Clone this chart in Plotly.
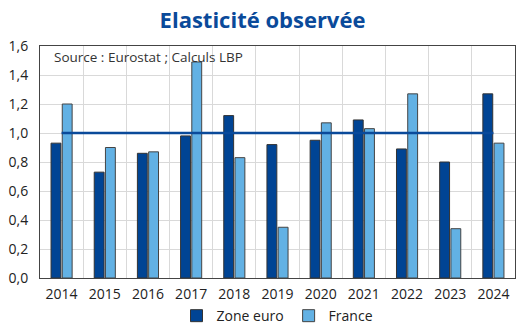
import plotly.graph_objects as go

years = ["2014", "2015", "2016", "2017", "2018", "2019", "2020", "2021", "2022", "2023", "2024"]
zone_euro = [0.93, 0.73, 0.86, 0.98, 1.12, 0.92, 0.95, 1.09, 0.89, 0.80, 1.27]
france = [1.20, 0.90, 0.87, 1.49, 0.83, 0.35, 1.07, 1.03, 1.27, 0.34, 0.93]
reference = [1.0] * len(years)

fig = go.Figure()
fig.add_trace(go.Bar(x=years, y=zone_euro, name="Zone euro",
                     marker=dict(color="#004494", line=dict(color="#333333", width=1))))
fig.add_trace(go.Bar(x=years, y=france, name="France",
                     marker=dict(color="#62B1E4", line=dict(color="#444444", width=1))))
fig.add_trace(go.Scatter(x=years, y=reference, mode="lines", showlegend=False,
                         line=dict(color="#0A4A9A", width=2.5), hoverinfo="skip"))

fig.update_layout(
    width=525, height=332,
    margin=dict(l=40, r=10, t=46, b=54),
    paper_bgcolor="white", plot_bgcolor="white",
    separators=", ",
    font=dict(family="Open Sans", size=14, color="#222222"),
    title=dict(text="<b>Elasticité observée</b>", x=0.5, xanchor="center", y=0.94, yanchor="middle",
               font=dict(family="Open Sans", size=22, color="#0A4A9A")),
    barmode="group", bargap=0.48, bargroupgap=0.12,
    legend=dict(orientation="h", x=0.5, xanchor="center", yref="container", y=0.048, yanchor="middle",
                font=dict(size=14), itemwidth=30, traceorder="normal"),
    xaxis=dict(type="category", tickson="boundaries", showgrid=True, gridcolor="#d9d9d9",
               showline=True, linecolor="#444444", linewidth=1, mirror=True, ticks="", ticklen=0,
               tickfont=dict(size=14), automargin=False, ticklabelstandoff=3),
    yaxis=dict(range=[0, 1.6], dtick=0.2, tickformat=".1f", showgrid=True, gridcolor="#d9d9d9",
               showline=True, linecolor="#444444", linewidth=1, mirror=True, zeroline=False,
               tickfont=dict(size=14), automargin=False, ticklabelstandoff=8),
    annotations=[dict(text="Source : Eurostat ; Calculs LBP", xref="paper", yref="paper",
                      x=0.026, y=1.0, xanchor="left", yanchor="top", showarrow=False,
                      font=dict(size=13.5, color="#333333"))],
)

fig.write_html("out.html")
